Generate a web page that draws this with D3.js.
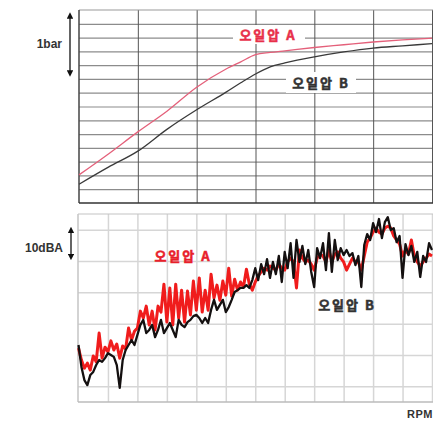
<html>
<script src="https://cdnjs.cloudflare.com/ajax/libs/d3/7.8.5/d3.min.js"></script>
<body style="margin:0;background:#fff">
<svg id="chart"></svg>
<script>

// oil pressure (bar) vs rpm - top panel
var pressureRpm  = [1000,1500,2000,2500,3000,3500,3750,4000,4250,4500,5000,5500,6000,6500,7000];
var oilPressureA = [0.51,0.89,1.29,1.67,2.10,2.43,2.56,2.69,2.73,2.76,2.82,2.87,2.92,2.96,2.99];
var oilPressureB = [0.34,0.65,0.94,1.34,1.69,2.01,2.18,2.34,2.47,2.54,2.65,2.74,2.81,2.85,2.89];

// noise level (dBA) vs rpm - bottom panel, one value every 50 rpm
var noiseRpm = d3.range(1000, 7001, 50);
var noiseA = [
  52.2,48.4,45.8,47.4,45.2,49.7,47.8,57.0,49.0,52.5,
  51.0,54.5,51.6,53.5,49.0,52.9,51.9,58.6,54.8,57.6,
  58.6,64.0,61.8,65.6,59.6,64.0,58.0,65.6,63.7,72.6,
  60.5,71.4,59.6,72.6,61.8,70.7,60.5,70.4,62.8,73.6,
  64.3,74.6,63.7,70.7,64.3,75.8,68.2,72.3,67.5,73.6,
  69.1,77.7,68.8,74.2,70.7,73.3,71.7,77.4,72.6,70.7,
  73.3,75.2,76.5,77.7,77.1,78.4,77.7,77.1,79.0,77.7,
  77.1,79.7,80.9,79.7,71.4,83.5,80.9,79.7,80.3,79.0,
  77.1,80.9,82.2,81.6,79.7,83.5,79.7,82.2,82.9,80.9,
  79.7,77.1,79.0,80.9,79.7,79.7,77.1,81.6,86.0,87.3,
  89.2,90.5,89.2,88.6,90.5,91.1,90.5,88.0,86.7,85.4,
  81.6,83.5,82.2,86.7,81.6,79.7,78.4,79.7,80.9,82.2,
  81.6];
var noiseB = [
  53.2,46.2,42.0,40.4,43.6,44.6,46.8,48.4,47.8,49.0,
  50.6,50.0,49.4,46.8,39.5,48.4,51.6,53.2,54.8,53.2,
  56.4,59.6,61.2,57.0,58.0,59.6,55.7,58.0,61.2,57.0,
  58.6,60.2,58.0,55.7,61.2,59.6,58.9,60.5,61.2,62.4,
  62.8,61.8,60.2,61.8,60.2,64.4,67.6,64.4,66.0,67.6,
  63.7,65.3,67.6,70.1,70.7,71.4,71.4,72.3,71.4,73.9,
  77.7,73.9,79.0,75.8,80.6,74.6,79.7,75.8,81.6,73.3,
  82.9,77.7,85.7,74.6,86.7,79.7,84.8,79.0,83.5,76.5,
  71.7,84.1,80.9,85.7,77.1,88.9,76.5,86.7,80.3,84.1,
  81.9,83.5,81.6,82.5,78.7,81.6,71.7,85.1,88.6,86.7,
  92.1,89.2,93.4,87.3,92.4,94.0,89.9,90.5,86.0,88.0,
  74.6,85.4,81.9,84.8,79.7,82.9,74.9,81.6,79.7,85.7,
  83.5];

// grid ticks
var topRpmTicks   = [2000,3000,4000,5000,6000,7000];
var topBarTicks   = [0.25,0.5,0.75,1,1.25,1.5,1.75,2,2.25,2.5,2.75,3,3.25];
var lowRpmTicks   = [1500,2000,2500,3000,3500,4000,4500,5000,5500,6000,6500,7000];
var lowDbTicks    = [40,50,60,70,80,90];

var seriesNames = ["오일압 A","오일압 B"];

var screen = {width:433, height:424};
var latin = "'Liberation Sans', Arial, sans-serif";
var hangul = "'Noto Sans CJK KR', sans-serif";

var svg = d3.select("#chart")
    .attr("width",screen.width)
    .attr("height",screen.height);

svg.append("rect").attr("width",screen.width).attr("height",screen.height).attr("fill","#fff");

// arrow heads
var defs = svg.append("defs");
defs.append("marker")
    .attr("id","head")
    .attr("viewBox","0 0 10 10")
    .attr("refX",5).attr("refY",5)
    .attr("markerWidth",5).attr("markerHeight",5)
    .attr("orient","auto-start-reverse")
    .append("path")
    .attr("d","M0,0 L10,5 L0,10 Z")
    .attr("fill","#111");

var gridLines = function(g, axis, color, width)
{
    g.call(axis);
    g.select(".domain").remove();
    g.selectAll("text").remove();
    g.selectAll("line").attr("stroke",color).attr("stroke-width",width);
}

// korean series label, stroked a little so it reads bold
var addLabel = function(g, x, y, text, color, size)
{
    return g.append("text")
        .text(text)
        .attr("x",x).attr("y",y)
        .attr("text-anchor","middle")
        .attr("dominant-baseline","central")
        .attr("fill",color)
        .attr("stroke",color)
        .attr("stroke-width",0.5)
        .attr("font-family",hangul)
        .attr("font-weight","bold")
        .attr("font-size",size)
        .attr("letter-spacing","2px");
}

//---------------- top panel ----------------
var xTop = d3.scaleLinear().domain([1000,7000]).range([79,432]);
var yTop = d3.scaleLinear().domain([0,3.5]).range([203,10]);

var topPanel = svg.append("g").classed("pressure",true);

gridLines(topPanel.append("g").attr("transform","translate(79,0)"),
    d3.axisLeft(yTop).tickValues(topBarTicks).tickSize(-400).tickFormat(""), "#8c8c8c", 1.2);
gridLines(topPanel.append("g").attr("transform","translate(0,10)"),
    d3.axisBottom(xTop).tickValues(topRpmTicks).tickSize(193).tickFormat(""), "#555", 1);

// frame
topPanel.append("line").attr("x1",79).attr("x2",433).attr("y1",yTop(3.5)).attr("y2",yTop(3.5))
    .attr("stroke","#999").attr("stroke-width",1);
topPanel.append("line").attr("x1",79).attr("x2",79).attr("y1",10).attr("y2",203)
    .attr("stroke","#444").attr("stroke-width",1.5);
topPanel.append("line").attr("x1",79).attr("x2",433).attr("y1",yTop(0)).attr("y2",yTop(0))
    .attr("stroke","#333").attr("stroke-width",1.6);

// label boxes
topPanel.append("rect").attr("x",233).attr("y",25).attr("width",72).attr("height",19).attr("fill","#fff");
topPanel.append("rect").attr("x",286).attr("y",72).attr("width",70).attr("height",21).attr("fill","#fff");

var lineTop = d3.line()
    .x(function(d,i){ return xTop(pressureRpm[i]); })
    .y(function(d){ return yTop(d); })
    .curve(d3.curveMonotoneX);

topPanel.append("path").datum(oilPressureB).attr("d",lineTop)
    .attr("fill","none").attr("stroke","#3a3a3a").attr("stroke-width",1.3);
topPanel.append("path").datum(oilPressureA).attr("d",lineTop)
    .attr("fill","none").attr("stroke","#e4607a").attr("stroke-width",1.3);

addLabel(topPanel, 268, 34, seriesNames[0], "#e8304a", 13);
addLabel(topPanel, 321, 82, seriesNames[1], "#333", 13);

// 1bar scale arrow
topPanel.append("line").attr("x1",70).attr("x2",70).attr("y1",yTop(3.4)).attr("y2",yTop(2.35))
    .attr("stroke","#111").attr("stroke-width",1.3)
    .attr("marker-start","url(#head)").attr("marker-end","url(#head)");
topPanel.append("text").text("1bar")
    .attr("x",62).attr("y",44)
    .attr("text-anchor","end").attr("dominant-baseline","central")
    .attr("font-family",latin).attr("font-weight","bold").attr("font-size",12)
    .attr("fill","#333");

//---------------- bottom panel ----------------
var xLow = d3.scaleLinear().domain([1000,7000]).range([78.5,432]);
var yLow = d3.scaleLinear().domain([35,95]).range([402,214]);

var lowPanel = svg.append("g").classed("noise",true);

gridLines(lowPanel.append("g").attr("transform","translate(78,0)"),
    d3.axisLeft(yLow).tickValues(lowDbTicks).tickSize(-400).tickFormat(""), "#d6d6d6", 1.5);
gridLines(lowPanel.append("g").attr("transform","translate(0,214)"),
    d3.axisBottom(xLow).tickValues(lowRpmTicks).tickSize(188).tickFormat(""), "#d6d6d6", 1.5);

lowPanel.append("line").attr("x1",78).attr("x2",433).attr("y1",yLow(95)).attr("y2",yLow(95))
    .attr("stroke","#c4c4c4").attr("stroke-width",1.2);
lowPanel.append("line").attr("x1",78).attr("x2",78).attr("y1",214).attr("y2",402)
    .attr("stroke","#c4c4c4").attr("stroke-width",1.5);
lowPanel.append("line").attr("x1",78).attr("x2",433).attr("y1",yLow(35)).attr("y2",yLow(35))
    .attr("stroke","#bbb").attr("stroke-width",1.5);

var lineLow = d3.line()
    .x(function(d,i){ return xLow(noiseRpm[i]); })
    .y(function(d){ return yLow(d); });

lowPanel.append("path").datum(noiseA).attr("d",lineLow)
    .attr("fill","none").attr("stroke","#f01c1c").attr("stroke-width",3)
    .attr("stroke-linejoin","round");
lowPanel.append("path").datum(noiseB).attr("d",lineLow)
    .attr("fill","none").attr("stroke","#141010").attr("stroke-width",2.3)
    .attr("stroke-linejoin","round");

addLabel(lowPanel, 183, 255, seriesNames[0], "#e8202a", 13);
addLabel(lowPanel, 347, 304, seriesNames[1], "#333", 13);

// 10dBA scale arrow
lowPanel.append("line").attr("x1",71).attr("x2",71).attr("y1",yLow(89.9)).attr("y2",yLow(81.3))
    .attr("stroke","#111").attr("stroke-width",1.3)
    .attr("marker-start","url(#head)").attr("marker-end","url(#head)");
lowPanel.append("text").text("10dBA")
    .attr("x",63).attr("y",248)
    .attr("text-anchor","end").attr("dominant-baseline","central")
    .attr("font-family",latin).attr("font-weight","bold").attr("font-size",12)
    .attr("fill","#333");

lowPanel.append("text").text("RPM")
    .attr("x",433).attr("y",414)
    .attr("text-anchor","end").attr("dominant-baseline","central")
    .attr("font-family",latin).attr("font-weight","bold").attr("font-size",11)
    .attr("letter-spacing","0.5px")
    .attr("fill","#333");

</script>
</body>
</html>
